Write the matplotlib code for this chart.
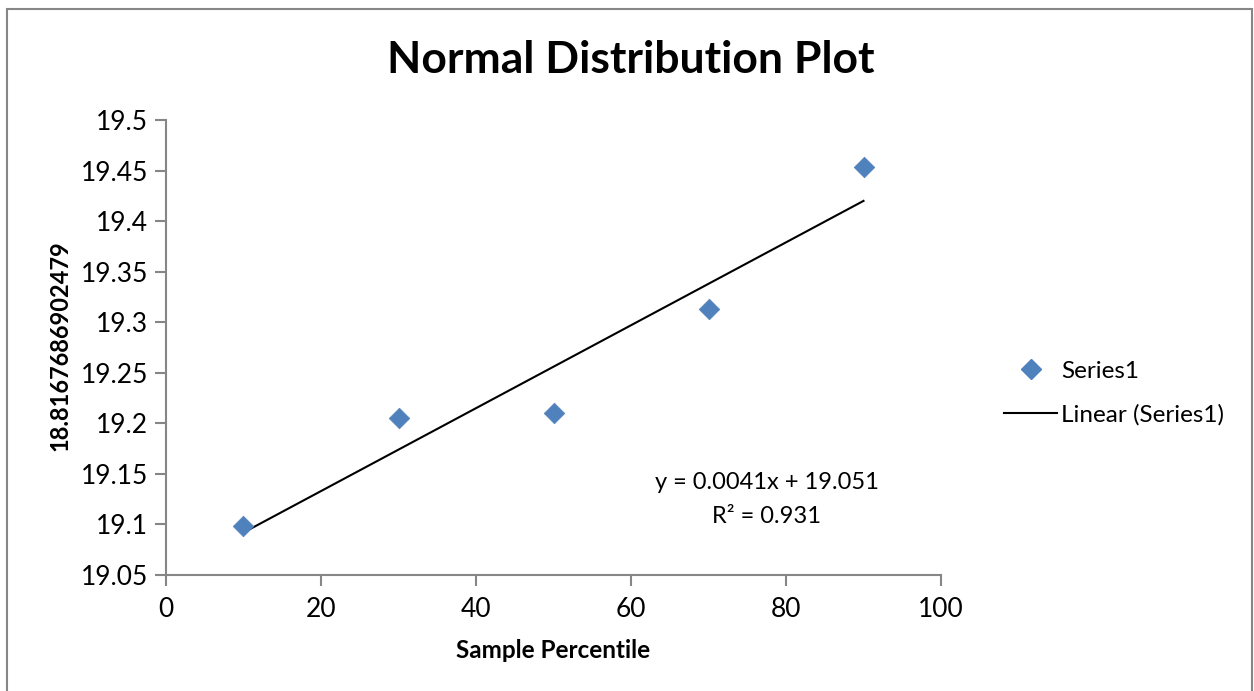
import matplotlib.pyplot as plt
import numpy as np
from matplotlib.patches import Rectangle
from matplotlib.lines import Line2D

plt.rcParams['font.family'] = ['Lato', 'DejaVu Sans']

# donnees
percentile = [10, 30, 50, 70, 90]
valeurs = [19.098, 19.205, 19.210, 19.313, 19.454]
pente = 0.0041
origine = 19.051
r2 = 0.931

gris = '#868686'
bleu = '#4f81bd'

fig = plt.figure(figsize=(12.54, 6.91), dpi=100)
# cadre autour du graphique
fig.patches.append(Rectangle((7 / 1254, -0.01), 1245 / 1254, 1 - 9 / 691 + 0.01,
                             transform=fig.transFigure, fill=False,
                             edgecolor=gris, linewidth=1.5))

ax = fig.add_axes([166 / 1254, 1 - 575 / 691, 775 / 1254, 455 / 691])

ax.scatter(percentile, valeurs, marker='D', s=110, color=bleu, zorder=3,
           edgecolors=bleu, linewidths=0.5)
xt = np.array([percentile[0], percentile[-1]])
ax.plot(xt, pente * xt + origine, color='black', linewidth=1.5, zorder=2)

ax.set_xlim(0, 100)
ax.set_ylim(19.05, 19.5)
ax.set_xticks(range(0, 101, 20))
ax.set_yticks(np.arange(19.05, 19.51, 0.05))
ax.set_yticklabels(['19.05', '19.1', '19.15', '19.2', '19.25', '19.3',
                    '19.35', '19.4', '19.45', '19.5'])
for s in ['top', 'right']:
    ax.spines[s].set_visible(False)
for s in ['left', 'bottom']:
    ax.spines[s].set_color(gris)
    ax.spines[s].set_linewidth(1.5)
ax.tick_params(direction='out', length=8, width=1.5, color=gris,
               labelsize=19, pad=5)
ax.tick_params(axis='x', pad=8)

fig.text(631 / 1254, 1 - 60 / 691, 'Normal Distribution Plot', fontsize=32,
         fontweight='bold', ha='center', va='center')
ax.set_xlabel('Sample Percentile', fontsize=17.5, fontweight='bold')
ax.set_ylabel('18.8167686902479', fontsize=17, fontweight='bold')
ax.xaxis.set_label_coords(0.5, -0.165)
ax.yaxis.set_label_coords(-0.137, 0.505)
ax.xaxis.label.set_va('center')
ax.yaxis.label.set_va('center')

ax.text(77.5, 19.141, 'y = 0.0041x + 19.051', fontsize=17, ha='center', va='center')
ax.text(77.5, 19.108, 'R² = %.3f' % r2, fontsize=17, ha='center', va='center')

poignees = [Line2D([], [], marker='D', color=bleu, linestyle='none', markersize=10),
            Line2D([], [], color='black', linewidth=1.5)]
fig.legend(poignees, ['Series1', 'Linear (Series1)'], loc='center left',
           bbox_to_anchor=(1004 / 1254, 1 - 393 / 691), frameon=False,
           fontsize=17.5, handlelength=2.2, handletextpad=0.15, labelspacing=0.9,
           borderaxespad=0, borderpad=0)

fig.savefig('out.png', dpi=100)
